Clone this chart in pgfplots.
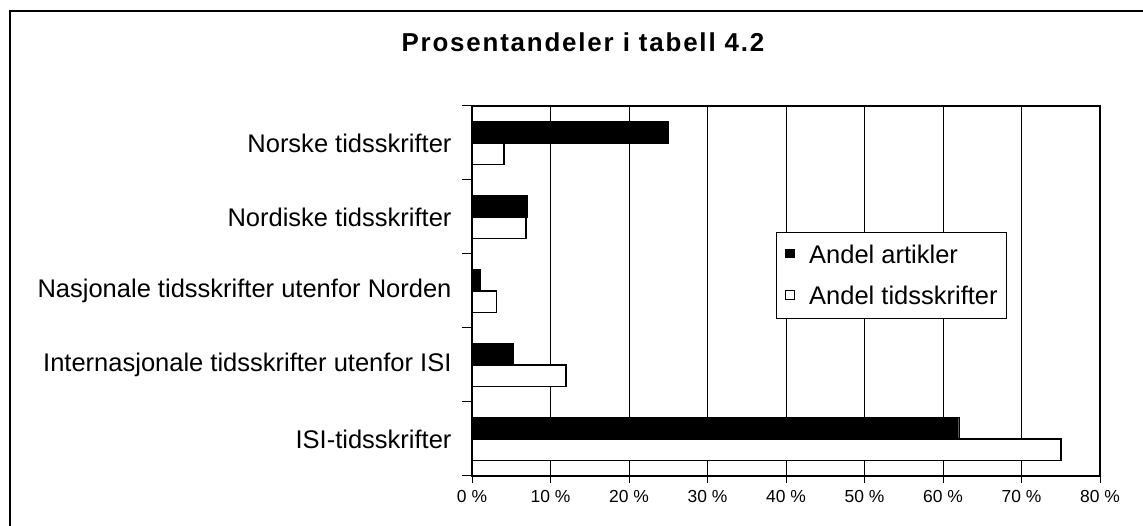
\documentclass[border=0pt]{standalone}
\usepackage{fontspec}
\setmainfont{Liberation Sans}
\newfontfamily\titlefont[LetterSpace=7]{Liberation Sans}
\usepackage{pgfplots}
\pgfplotsset{compat=1.18}
\begin{document}
\begin{tikzpicture}[x=1bp,y=1bp]
\useasboundingbox (0,0) rectangle (1143,526);
\draw[line width=1.5bp] (10,0) -- (10,515) -- (1143,515);
\node[anchor=base, inner sep=0, font=\titlefont\bfseries\fontsize{26}{29}\selectfont] at (583,474) {Prosentandeler i tabell 4.2};
\begin{axis}[
  at={(472bp,50bp)}, anchor=south west,
  width=628bp, height=370bp, scale only axis,
  xbar,
  xmin=0, xmax=80, ymin=-0.5, ymax=4.5,
  xtick={0,10,...,80},
  xticklabel={\pgfmathprintnumber{\tick}~\%},
  ytick={0,1,2,3,4},
  yticklabels={ISI-tidsskrifter, Internasjonale tidsskrifter utenfor ISI, Nasjonale tidsskrifter utenfor Norden, Nordiske tidsskrifter, Norske tidsskrifter},
  minor ytick={-0.5,0.5,...,4.5},
  tick align=outside, tick pos=left,
  major tick length=7bp, minor tick length=10bp,
  major y tick style={draw=none},
  tick style={black, line width=1bp},
  xmajorgrids, grid style={black, line width=0.8bp},
  axis line style={black, line width=1.2bp},
  /pgf/number format/assume math mode=true,
  xticklabel style={font=\fontsize{17.5}{20}\selectfont, yshift=-4bp},
  yticklabel style={font=\fontsize{25.6}{30}\selectfont, xshift=-10bp},
  legend style={at={(rel axis cs:0.484,0.6595)}, anchor=north west, draw=black, line width=1bp, fill=white,
    font=\fontsize{25.6}{30}\selectfont, inner xsep=9bp, inner ysep=12.5bp, row sep=21.3bp,
    nodes={inner sep=0bp}},
  legend cell align=left,
]
\addplot[fill=black, draw=black, bar width=0.29, bar shift=0.145,
  legend image code/.code={\path[draw=none,fill=none] (0bp,0bp) -- (23.3bp,0bp); \draw[fill=black,draw=black,line width=0.8bp] (0bp,-2.75bp) rectangle (8.3bp,5.65bp);}]
  coordinates {(62,0) (5.2,1) (1.1,2) (7.0,3) (25,4)};
\addplot[fill=white, draw=black, line width=1.5bp, bar width=0.29, bar shift=-0.145,
  legend image code/.code={\path[draw=none,fill=none] (0bp,0bp) -- (23.3bp,0bp); \draw[fill=white,draw=black,line width=0.8bp] (0bp,-2.75bp) rectangle (8.3bp,5.65bp);}]
  coordinates {(75,0) (12,1) (3.1,2) (6.9,3) (4.1,4)};
\legend{Andel artikler, Andel tidsskrifter}
\end{axis}
\end{tikzpicture}
\end{document}
